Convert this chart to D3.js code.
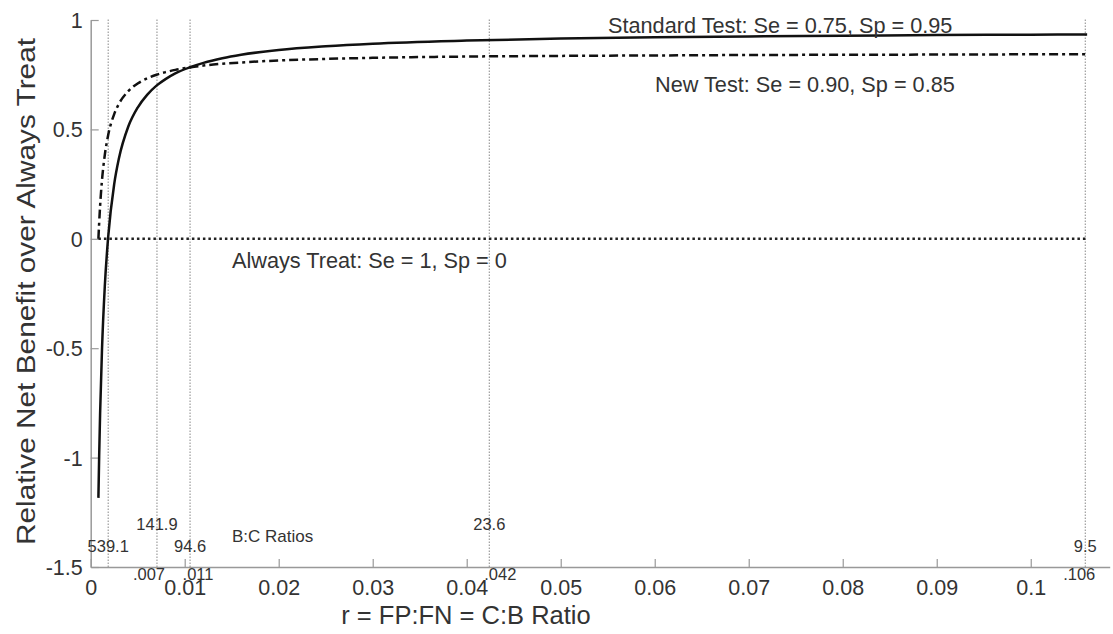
<!DOCTYPE html>
<html>
<head>
<meta charset="utf-8">
<script src="https://cdn.jsdelivr.net/npm/d3@7"></script>
<style>
  body { margin: 0; background: #fff; }
  svg text { font-family: "Liberation Sans", Arial, sans-serif; fill: #333; }
</style>
</head>
<body>
<div id="chart"></div>
<script>
// r = C:B ratio sampled along the curves
var rVals = [0.00082, 0.0009, 0.001, 0.0012, 0.0015, 0.00186, 0.0025, 0.003, 0.004, 0.005,
  0.006, 0.007, 0.008, 0.009, 0.0105, 0.012, 0.014, 0.016, 0.02, 0.025,
  0.03, 0.04, 0.05, 0.06, 0.07, 0.08, 0.09, 0.1, 0.106]

// relative net benefit
var standardVals = [-1.184, -0.994, -0.80, -0.508, -0.217, 0.009, 0.25, 0.367, 0.513, 0.60,
  0.658, 0.70, 0.731, 0.756, 0.783, 0.804, 0.825, 0.841, 0.863, 0.88,
  0.892, 0.906, 0.915, 0.921, 0.925, 0.928, 0.931, 0.933, 0.934]
var newVals = [0.0, 0.072, 0.15, 0.267, 0.383, 0.474, 0.57, 0.617, 0.675, 0.71,
  0.733, 0.75, 0.762, 0.772, 0.783, 0.792, 0.80, 0.806, 0.815, 0.822,
  0.827, 0.833, 0.836, 0.838, 0.84, 0.841, 0.842, 0.843, 0.843]
var alwaysVals = [0, 0]
var alwaysR = [0.00082, 0.106]

// reference lines: r values and their B:C ratios
var refR = [0.00186, 0.00705, 0.01057, 0.0424, 0.1058]
var bcLabels = ['539.1', '141.9', '94.6', '23.6', '9.5']
var rLabels = ['', '.007', '.011', '.042', '.106']

var xTicks = [0, 0.01, 0.02, 0.03, 0.04, 0.05, 0.06, 0.07, 0.08, 0.09, 0.1]
var xTickLabels = ['0', '0.01', '0.02', '0.03', '0.04', '0.05', '0.06', '0.07', '0.08', '0.09', '0.1']
var yTicks = [-1.5, -1, -0.5, 0, 0.5, 1]
var yTickLabels = ['-1.5', '-1', '-0.5', '0', '0.5', '1']

var width = 1113, height = 634

var svg = d3.select('#chart').append('svg')
  .attr('width', width).attr('height', height)

var x = d3.scaleLinear().domain([0, 0.1084]).range([90.7, 1109.7])
var y = d3.scaleLinear().domain([-1.5, 1]).range([567, 20])

// reference verticals
svg.selectAll('line.ref').data(refR).enter().append('line')
  .attr('class', 'ref')
  .attr('x1', d => x(d)).attr('x2', d => x(d))
  .attr('y1', y(-1.5)).attr('y2', y(1) - 2)
  .attr('stroke', '#888').attr('stroke-width', 1)
  .attr('stroke-dasharray', '1.5,1.5')

// axes (ticks inward, no box)
var xAxis = d3.axisBottom(x).tickValues(xTicks).tickSizeInner(-8).tickSizeOuter(0)
  .tickFormat((d, i) => xTickLabels[i])
var yAxis = d3.axisLeft(y).tickValues(yTicks).tickSizeInner(-8).tickSizeOuter(0)
  .tickFormat((d, i) => yTickLabels[i])

var gx = svg.append('g').attr('class', 'axis').attr('transform', 'translate(0,' + y(-1.5) + ')').call(xAxis)
gx.selectAll('text').attr('dy', null).attr('y', 28).style('font-size', '21.5px')
  .style('font-family', '"Liberation Sans", Arial, sans-serif').attr('fill', '#333')

var gy = svg.append('g').attr('class', 'axis').attr('transform', 'translate(' + x(0) + ',0)').call(yAxis)
gy.selectAll('text').attr('x', -8).attr('dy', '0.35em').style('font-size', '21.5px')
  .style('font-family', '"Liberation Sans", Arial, sans-serif').attr('fill', '#333')
svg.selectAll('.axis path').attr('stroke', '#999').attr('stroke-width', 1.5)
svg.selectAll('.axis line').attr('stroke', '#999').attr('stroke-width', 1.2)

// curves
var line = d3.line().x(d => x(d[0])).y(d => y(d[1])).curve(d3.curveMonotoneX)

svg.append('path')
  .attr('d', line(alwaysR.map((r, i) => [r, alwaysVals[i]])))
  .attr('fill', 'none').attr('stroke', '#222').attr('stroke-width', 2.5)
  .attr('stroke-dasharray', '2.5,3')

svg.append('path')
  .attr('d', line(rVals.map((r, i) => [r, newVals[i]])))
  .attr('fill', 'none').attr('stroke', '#111').attr('stroke-width', 2.5)
  .attr('stroke-dasharray', '9,4,3,4')

svg.append('path')
  .attr('d', line(rVals.map((r, i) => [r, standardVals[i]])))
  .attr('fill', 'none').attr('stroke', '#111').attr('stroke-width', 2.5)

// B:C ratio labels, alternating height
svg.selectAll('text.bc').data(bcLabels).enter().append('text')
  .attr('class', 'bc')
  .attr('x', (d, i) => x(refR[i]))
  .attr('y', (d, i) => i % 2 ? 530 : 552)
  .attr('text-anchor', 'middle')
  .style('font-size', '16.5px')
  .text(d => d)

var rDx = [0, -8, 8, 11, -6]
svg.selectAll('text.rl').data(rLabels).enter().append('text')
  .attr('class', 'rl')
  .attr('x', (d, i) => x(refR[i]) + rDx[i])
  .attr('y', 580)
  .attr('text-anchor', 'middle')
  .style('font-size', '16.5px')
  .text(d => d)

svg.append('text').attr('x', 232).attr('y', 542).style('font-size', '17px').text('B:C Ratios')

// curve annotations
svg.append('text').attr('x', 608).attr('y', 33).style('font-size', '21.7px')
  .text('Standard Test: Se = 0.75, Sp = 0.95')
svg.append('text').attr('x', 655).attr('y', 92).style('font-size', '21.7px')
  .text('New Test: Se = 0.90, Sp = 0.85')
svg.append('text').attr('x', 232).attr('y', 268).style('font-size', '21.7px')
  .text('Always Treat: Se = 1, Sp = 0')

// axis titles
svg.append('text').attr('x', 466).attr('y', 624).attr('text-anchor', 'middle')
  .style('font-size', '25.5px').text('r = FP:FN = C:B Ratio')
svg.append('text').attr('transform', 'translate(35,291.5) rotate(-90)').attr('text-anchor', 'middle')
  .style('font-size', '25px')
  .attr('textLength', 507).attr('lengthAdjust', 'spacingAndGlyphs')
  .text('Relative Net Benefit over Always Treat')
</script>
</body>
</html>
